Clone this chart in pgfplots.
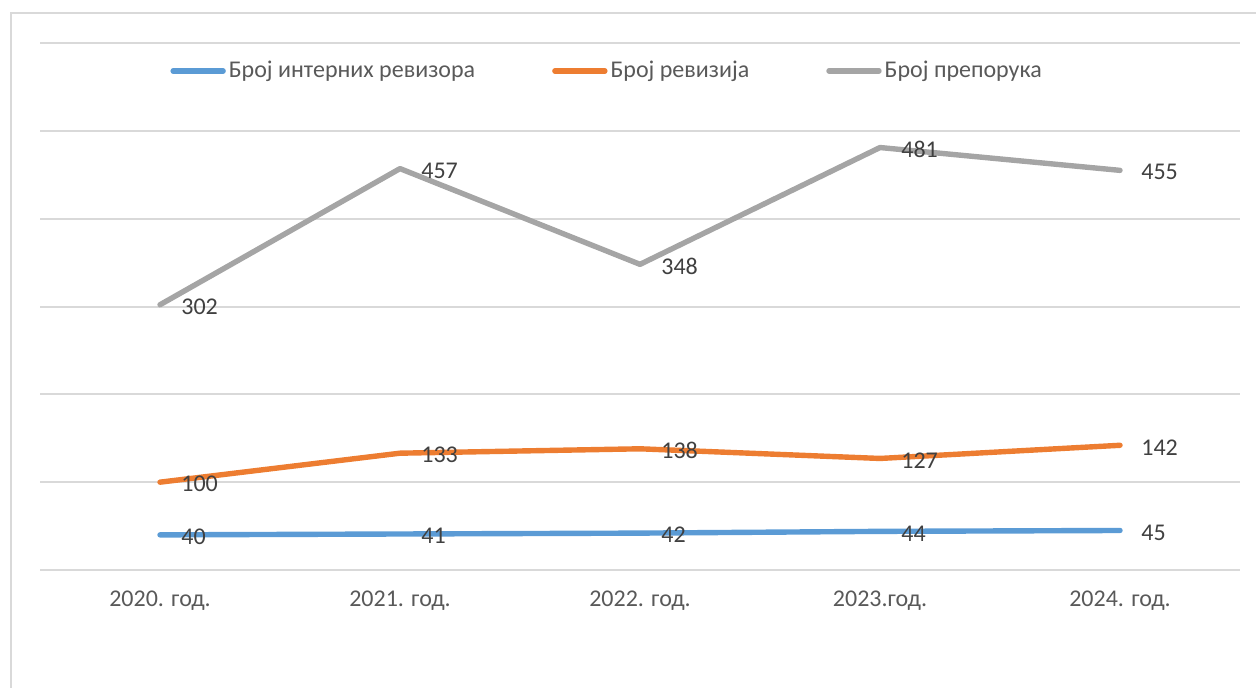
\documentclass[border=0pt]{standalone}
\usepackage{pgfplots}
\pgfplotsset{compat=1.18}
\usepackage{fontspec}
\setmainfont{Carlito}
\definecolor{cblue}{HTML}{5B9BD5}
\definecolor{corange}{HTML}{ED7D31}
\definecolor{cgray}{HTML}{A5A5A5}
\definecolor{gridc}{HTML}{D9D9D9}
\definecolor{labc}{HTML}{404040}
\definecolor{tickc}{HTML}{595959}
\begin{document}
\begin{tikzpicture}
\draw[gridc, line width=1pt] (-14.5pt,-80pt) -- (-14.5pt,278.5pt) -- (640pt,278.5pt);
\begin{axis}[
  scale only axis,
  width=600pt, height=263.5pt,
  xmin=-0.5, xmax=4.5, ymin=0, ymax=600,
  axis line style={draw=none},
  ytick={0,100,...,600},
  ymajorgrids,
  grid style={gridc, line width=1pt},
  xtick={0,1,2,3,4},
  xticklabels={2020. год., 2021. год., 2022. год., 2023.год., 2024. год.},
  x tick label style={font=\fontsize{12}{14}\selectfont, text=tickc, yshift=-7pt},
  yticklabels={},
  major tick length=0pt,
  /pgf/number format/assume math mode=true,
  nodes near coords,
  every node near coord/.append style={font=\fontsize{12}{14}\selectfont, text=labc, anchor=west, xshift=6pt, yshift=-1pt},
  every axis plot/.append style={line width=2.7pt, line cap=round, line join=round},
  legend columns=3,
  legend style={draw=none, fill=none, at={(0.473,0.947)}, anchor=center,
    font=\fontsize{12}{14}\selectfont, text=tickc,
    nodes={inner sep=1.5pt},
    /tikz/every even column/.append style={column sep=37pt}},
  legend image code/.code={\draw[#1, line width=2.7pt, line cap=round] (0pt,0pt) -- (25pt,0pt);},
  clip=false,
]
\addplot[cblue, mark=none] coordinates {(0,40) (1,41) (2,42) (3,44) (4,45)};
\addlegendentry{Број интерних ревизора}
\addplot[corange, mark=none] coordinates {(0,100) (1,133) (2,138) (3,127) (4,142)};
\addlegendentry{Број ревизија}
\addplot[cgray, mark=none] coordinates {(0,302) (1,457) (2,348) (3,481) (4,455)};
\addlegendentry{Број препорука}
\end{axis}
\pgfresetboundingbox
\useasboundingbox (-20pt,-58.5pt) rectangle (608pt,285pt);
\end{tikzpicture}
\end{document}
